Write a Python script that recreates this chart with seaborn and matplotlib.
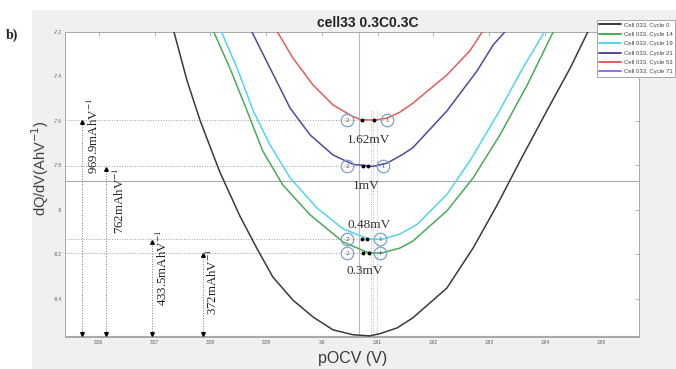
import numpy as np
import pandas as pd
import matplotlib
matplotlib.use("Agg")
import matplotlib.pyplot as plt
import seaborn as sns
from matplotlib.lines import Line2D
from matplotlib.patches import Rectangle

sns.set_style("white")
plt.rcParams['font.family'] = ['Liberation Sans', 'DejaVu Sans']

# ---------------- data ----------------
series_labels = ["Cell 033, Cycle 0", "Cell 033, Cycle 14", "Cell 033, Cycle 19",
                 "Cell 033, Cycle 21", "Cell 033, Cycle 53", "Cell 033, Cycle 71"]
series_colors = ["#3a3a3a", "#4aa95a", "#52d6ee", "#54479f", "#e25c5c", "#8d6ff2"]

black_x = [3.5733, 3.5758, 3.5782, 3.5817, 3.5853, 3.5884, 3.5912, 3.5948, 3.5984, 3.6020,
           3.6056, 3.6086, 3.6104, 3.6135, 3.6163, 3.6224, 3.6271, 3.6314, 3.6355, 3.6403,
           3.6445, 3.6480]
black_y = [-7.182, -7.416, -7.600, -7.829, -8.027, -8.175, -8.301, -8.405, -8.481, -8.539,
           -8.561, -8.566, -8.556, -8.530, -8.485, -8.351, -8.171, -7.978, -7.780, -7.555,
           -7.362, -7.182]

green_x = [3.5803, 3.5835, 3.5866, 3.5894, 3.5930, 3.5979, 3.6038, 3.6081, 3.6095, 3.6109,
           3.6140, 3.6163, 3.6224, 3.6271, 3.6319, 3.6368, 3.6418]
green_y = [-7.182, -7.362, -7.555, -7.735, -7.888, -8.022, -8.144, -8.190, -8.194, -8.192,
           -8.171, -8.140, -8.004, -7.856, -7.663, -7.438, -7.182]

cyan_x = [3.5817, 3.5848, 3.5877, 3.5907, 3.5943, 3.5991, 3.6038, 3.6081, 3.6095, 3.6109,
          3.6140, 3.6171, 3.6224, 3.6265, 3.6314, 3.6360, 3.6403]
cyan_y = [-7.182, -7.362, -7.555, -7.708, -7.856, -7.991, -8.085, -8.128, -8.1325, -8.131,
          -8.108, -8.064, -7.930, -7.780, -7.573, -7.362, -7.182]

indigo_x = [3.5871, 3.5907, 3.5943, 3.5979, 3.6020, 3.6056, 3.6092, 3.6117, 3.6145, 3.6163,
            3.6224, 3.6278, 3.6307, 3.6334]
indigo_y = [-7.182, -7.362, -7.542, -7.663, -7.753, -7.795, -7.804, -7.789, -7.750, -7.720,
            -7.555, -7.375, -7.258, -7.182]

red_x = [3.5916, 3.5948, 3.5984, 3.6020, 3.6054, 3.6069, 3.6095, 3.6117, 3.6140, 3.6163,
         3.6224, 3.6265, 3.6292]
red_y = [-7.182, -7.317, -7.438, -7.528, -7.578, -7.594, -7.596, -7.587, -7.560, -7.520,
         -7.393, -7.285, -7.182]

# minimum levels (red, indigo, cyan, green) and black baseline
min_levels = [-7.596, -7.804, -8.1325, -8.194]
base_level = -8.566
capacity_labels = ["969.9mAhV$^{-1}$", "762mAhV$^{-1}$", "433.5mAhV$^{-1}$", "372mAhV$^{-1}$"]
shift_labels = ["1.62mV", "1mV", "0.48mV", "0.3mV"]

x_ticks = [3.56, 3.57, 3.58, 3.59, 3.60, 3.61, 3.62, 3.63, 3.64, 3.65]
y_ticks = [-7.2, -7.4, -7.6, -7.8, -8.0, -8.2, -8.4]

# ---------------- figure ----------------
W, H = 676, 369
fig = plt.figure(figsize=(W / 100, H / 100), dpi=100, facecolor="white")
fig.patches.append(Rectangle((32 / W, 0), 1 - 32 / W, 1 - 10 / H, transform=fig.transFigure,
                             facecolor="#f0f0f0", edgecolor="none", zorder=-10))
ax = fig.add_axes([65 / W, 32 / H, 574 / W, 305 / H])
ax.set_facecolor("white")

curves = [(black_x, black_y, 0), (green_x, green_y, 1), (cyan_x, cyan_y, 2),
          (indigo_x, indigo_y, 3), (red_x, red_y, 4)]
for xs, ys, ci in curves:
    df = pd.DataFrame({"pOCV": xs, "dQdV": ys})
    sns.lineplot(data=df, x="pOCV", y="dQdV", ax=ax, color=series_colors[ci],
                 linewidth=1.1, estimator=None, sort=False, legend=False, zorder=3)

xmin, xmax = 3.55396, 3.65683
ymin, ymax = -8.571, -7.2
ax.set_xlim(xmin, xmax)
ax.set_ylim(ymin, ymax)

# reference lines
ax.axhline(-7.870, color="#aaaaaa", lw=0.8, zorder=1)
ax.axhline(base_level, color="#aaaaaa", lw=0.8, zorder=1)
ax.axvline(3.6066, color="#b8b8b8", lw=0.8, zorder=1)
for vx in [3.6088, 3.6092, 3.6098]:
    ax.plot([vx, vx], [ymin, -7.55], ls=":", color="#a8a8a8", lw=0.6, zorder=1)
for lvl in min_levels:
    ax.plot([xmin, 3.6112], [lvl, lvl], ls=":", color="#a0a0a0", lw=0.7, zorder=1)

# capacity arrows
arrow_x = [3.5570, 3.5613, 3.5696, 3.5787]
arrow_bottom = -8.558
for axx, lvl in zip(arrow_x, min_levels):
    ax.plot([axx, axx], [arrow_bottom, lvl - 0.01], ls=":", color="#777777", lw=0.7, zorder=2)
    ax.plot([axx], [lvl - 0.01], marker="^", ms=2.6, color="black", zorder=4)
    ax.plot([axx], [arrow_bottom], marker="v", ms=2.6, color="black", zorder=4)

cap_pos = [(3.55898, -7.667), (3.56364, -7.960), (3.57134, -8.261), (3.58030, -8.324)]
for (tx, ty), lab in zip(cap_pos, capacity_labels):
    ax.text(tx, ty, lab, rotation=90, ha="center", va="center", fontsize=9.3,
            family="Liberation Serif", math_fontfamily="stix", color="#222222", zorder=5)

shift_pos = [(3.6083, -7.685), (3.6079, -7.890), (3.6084, -8.067), (3.6076, -8.274)]
for (tx, ty), lab in zip(shift_pos, shift_labels):
    ax.text(tx, ty, lab, ha="center", va="center", fontsize=9.5,
            family="Liberation Serif", color="#333333", zorder=5)

# numbered circles and dots
circ2_x = [3.6045, 3.6045, 3.6045, 3.6045]
circ1_x = [3.6117, 3.6110, 3.6104, 3.6104]
dots = [(3.6072, 3.6093), (3.6074, 3.6083), (3.6072, 3.6081), (3.6074, 3.6084)]
for lvl, c2, c1, (d1, d2) in zip(min_levels, circ2_x, circ1_x, dots):
    ax.plot([d1, d2], [lvl, lvl], ls="none", marker="o", ms=1.8, color="black", zorder=5)
    for cx, num in [(c2, "2"), (c1, "1")]:
        ax.plot([cx], [lvl], marker="o", ms=9, mfc="none", mec="#7ea2c6", mew=0.9, zorder=6)
        ax.text(cx, lvl, num, ha="center", va="center", fontsize=5,
                family="Liberation Serif", color="#444444", zorder=7)

# axes styling
ax.set_xticks(x_ticks)
ax.set_xticklabels([f"{v:g}" for v in x_ticks])
ax.set_yticks(y_ticks)
ax.set_yticklabels([f"{v:g}" for v in y_ticks])
ax.tick_params(direction="in", length=3, width=0.5, color="#999999", labelsize=3.3,
               labelcolor="#555555", top=True, right=True, pad=2.5)
for sp in ax.spines.values():
    sp.set_color("#a8a8a8")
    sp.set_linewidth(0.7)
ax.set_xlabel("")
ax.set_ylabel("")

fig.text(353 / W, 1 - 358 / H, "pOCV (V)", ha="center", va="center", fontsize=11.5, color="#3a3a3a")
fig.text(40 / W, 1 - 168 / H, "dQ/dV(AhV$^{-1}$)", rotation=90, ha="center", va="center",
         fontsize=10.5, color="#404040")
fig.text(368 / W, 1 - 23 / H, "cell33 0.3C0.3C", ha="center", va="center", fontsize=10,
         fontweight="bold", color="#222222")
fig.text(12 / W, 1 - 35 / H, "b)", ha="center", va="center", fontsize=10,
         fontweight="bold", family="Liberation Serif", color="#222222")

handles = [Line2D([0], [0], color=c, lw=1.4) for c in series_colors]
leg = fig.legend(handles, series_labels, loc="upper left",
                 bbox_to_anchor=(597 / W, 1 - 20 / H), bbox_transform=fig.transFigure,
                 fontsize=4.3, frameon=True, fancybox=False, edgecolor="#999999",
                 framealpha=1, handlelength=3.7, handletextpad=0.4, labelspacing=0.7,
                 borderpad=0.4, borderaxespad=0)
leg.get_frame().set_linewidth(0.6)
for t in leg.get_texts():
    t.set_color("#444444")

fig.savefig("out.png", dpi=100)
